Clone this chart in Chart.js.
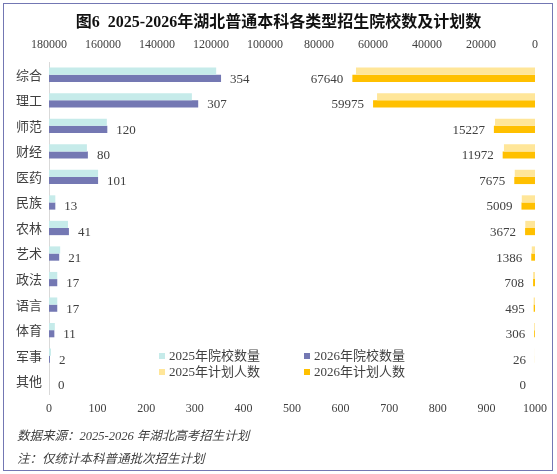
<!DOCTYPE html>
<html lang="zh">
<head>
<meta charset="UTF-8">
<title>湖北普通本科各类型招生院校数及计划数</title>
<style>
    html, body {
        margin: 0;
        padding: 0;
        background: #ffffff;
    }
    #wrap {
        position: relative;
        width: 557px;
        height: 474px;
        overflow: hidden;
    }
    #frame {
        position: absolute;
        left: 3px;
        top: 3px;
        width: 548px;
        height: 466px;
        border: 1px solid #7377b3;
    }
    #title {
        position: absolute;
        left: 0;
        top: 8px;
        width: 557px;
        text-align: center;
        font-family: 'Liberation Serif', 'Noto Sans CJK SC', serif;
        font-weight: bold;
        font-size: 16px;
        color: #111;
    }
    .note {
        position: absolute;
        left: 17px;
        font-family: 'Liberation Serif', 'Noto Sans CJK SC', serif;
        font-style: italic;
        font-size: 12.5px;
        color: #404040;
    }
    #chartBox {
        position: absolute;
        left: 0;
        top: 0;
        width: 557px;
        height: 474px;
    }
</style>
</head>
<body>
<div id="wrap">
    <div id="chartBox"><canvas id="typeChart" width="557" height="474"></canvas></div>
    <div id="frame"></div>
    <div id="title">图6&nbsp;&nbsp;2025-2026年湖北普通本科各类型招生院校数及计划数</div>
    <div class="note" style="top:425px">数据来源：2025-2026 年湖北高考招生计划</div>
    <div class="note" style="top:448px">注：仅统计本科普通批次招生计划</div>
</div>

<script src="https://cdn.jsdelivr.net/npm/chart.js"></script>
<script>
    const categories = ['综合', '理工', '师范', '财经', '医药', '民族', '农林', '艺术', '政法', '语言', '体育', '军事', '其他'];
    const schools2025 = [344, 294, 119, 78, 101, 13, 39, 23, 17, 17, 12, 4, 0];
    const schools2026 = [354, 307, 120, 80, 101, 13, 41, 21, 17, 17, 11, 2, 0];
    const plan2025 = [66300, 58500, 14800, 11500, 7500, 4900, 3600, 1200, 700, 500, 300, 30, 0];
    const plan2026 = [67640, 59975, 15227, 11972, 7675, 5009, 3672, 1386, 708, 495, 306, 26, 0];
    const schoolTicks = [0, 100, 200, 300, 400, 500, 600, 700, 800, 900, 1000];
    const planTicks = [0, 20000, 40000, 60000, 80000, 100000, 120000, 140000, 160000, 180000];

    const numFont = "'Liberation Serif', 'Noto Sans CJK SC', serif";
    const textColor = '#404040';

    // value labels next to the 2026 bars
    const valueLabels = {
        id: 'valueLabels',
        afterDatasetsDraw(chart) {
            const ctx = chart.ctx;
            ctx.save();
            ctx.font = '13px ' + numFont;
            ctx.fillStyle = textColor;
            ctx.textBaseline = 'middle';
            [1, 3].forEach(di => {
                const meta = chart.getDatasetMeta(di);
                const vals = chart.data.datasets[di].data;
                meta.data.forEach((bar, i) => {
                    if (di === 1) {
                        ctx.textAlign = 'left';
                        ctx.fillText(vals[i], bar.x + 9, bar.y + 1);
                    } else {
                        ctx.textAlign = 'right';
                        ctx.fillText(vals[i], bar.x - 9, bar.y + 1);
                    }
                });
            });
            ctx.restore();
        }
    };

    // legend in 2 x 2 grid inside plot area
    const gridLegend = {
        id: 'gridLegend',
        afterDraw(chart) {
            const ctx = chart.ctx;
            const spots = [[159, 356], [159, 372], [304, 356], [304, 372]];
            const order = [0, 2, 1, 3];
            ctx.save();
            ctx.font = '13px ' + numFont;
            ctx.textBaseline = 'middle';
            ctx.textAlign = 'left';
            order.forEach((di, k) => {
                const ds = chart.data.datasets[di];
                const [x, y] = spots[k];
                ctx.fillStyle = ds.backgroundColor;
                ctx.fillRect(x, y - 3, 6, 6);
                ctx.fillStyle = textColor;
                ctx.fillText(ds.label, x + 10, y + 1);
            });
            ctx.restore();
        }
    };

    const ctx = document.getElementById('typeChart').getContext('2d');
    new Chart(ctx, {
        type: 'bar',
        data: {
            labels: categories,
            datasets: [
                { label: '2025年院校数量', data: schools2025, backgroundColor: '#c6ebea', xAxisID: 'x', stack: 'a' },
                { label: '2026年院校数量', data: schools2026, backgroundColor: '#7478b3', xAxisID: 'x', stack: 'b' },
                { label: '2025年计划人数', data: plan2025, backgroundColor: '#ffe699', xAxisID: 'x2', stack: 'a' },
                { label: '2026年计划人数', data: plan2026, backgroundColor: '#ffc000', xAxisID: 'x2', stack: 'b' }
            ]
        },
        options: {
            indexAxis: 'y',
            responsive: false,
            animation: false,
            devicePixelRatio: 1,
            datasets: {
                bar: {
                    categoryPercentage: 0.56,
                    barPercentage: 1.0
                }
            },
            layout: {
                padding: { top: 34, left: 4, right: 22, bottom: 56 }
            },
            plugins: {
                legend: { display: false },
                tooltip: { enabled: false }
            },
            scales: {
                y: {
                    grid: { display: true, drawOnChartArea: false, drawTicks: false },
                    border: { display: true, color: '#d9d9d9', width: 1 },
                    ticks: {
                        color: textColor,
                        padding: 7,
                        autoSkip: false,
                        font: { family: "'Noto Sans CJK SC', sans-serif", size: 13 }
                    },
                    afterFit(scale) { scale.width = 45; }
                },
                x: {
                    position: 'bottom',
                    min: 0,
                    max: 1000,
                    stacked: false,
                    grid: { display: false, drawTicks: false },
                    border: { display: false },
                    afterBuildTicks(scale) { scale.ticks = schoolTicks.map(v => ({ value: v })); },
                    ticks: {
                        color: textColor,
                        padding: 8,
                        maxRotation: 0,
                        autoSkip: false,
                        font: { family: numFont, size: 12 },
                        callback: v => String(v)
                    },
                    afterFit(scale) { scale.height = 24; }
                },
                x2: {
                    position: 'top',
                    reverse: true,
                    min: 0,
                    max: 180000,
                    stacked: false,
                    grid: { display: false, drawTicks: false },
                    border: { display: false },
                    afterBuildTicks(scale) { scale.ticks = planTicks.map(v => ({ value: v })); },
                    ticks: {
                        color: textColor,
                        padding: 10,
                        maxRotation: 0,
                        autoSkip: false,
                        font: { family: numFont, size: 12 },
                        callback: v => String(v)
                    },
                    afterFit(scale) { scale.height = 28; }
                }
            }
        },
        plugins: [valueLabels, gridLegend]
    });
</script>
</body>
</html>
